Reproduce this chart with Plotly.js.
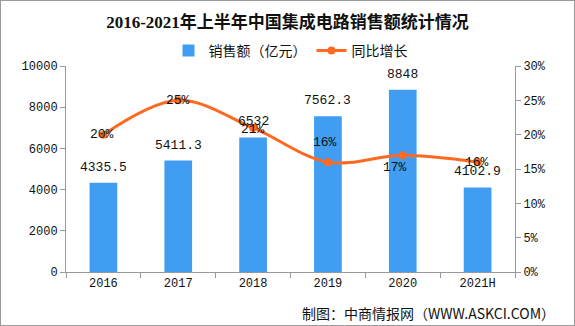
<!DOCTYPE html>
<html>
<head>
<meta charset="utf-8">
<script src="https://cdn.plot.ly/plotly-3.0.1.min.js"></script>
<style>
html,body{margin:0;padding:0;background:#fff;}
#wrap{position:relative;width:575px;height:326px;}
#frame{position:absolute;left:0;top:0;width:575px;height:326px;box-sizing:border-box;border:1px solid #9a9a9a;pointer-events:none;}
</style>
</head>
<body>
<div id="wrap"><div id="chart" style="width:575px;height:326px;"></div><div id="frame"></div></div>
<script>
const categories = ['2016', '2017', '2018', '2019', '2020', '2021H'];
const sales = [4335.5, 5411.3, 6532, 7562.3, 8848, 4102.9];
const salesLabels = ['4335.5', '5411.3', '6532', '7562.3', '8848', '4102.9'];
const growth = [0.20, 0.25, 0.21, 0.16, 0.17, 0.16];
const growthLabels = ['20%', '25%', '21%', '16%', '17%', '16%'];
// label offsets in pixels (style, not data)
const growthLabelDx = [-1, 0, 0, -3, -8, -1];
const growthLabelDy = [0, 0, -2, 20, -12, 0];

const mono = 'Liberation Mono, DejaVu Sans Mono, monospace';
const cjk = 'Noto Sans CJK SC, Noto Sans, sans-serif';

const traces = [
  {
    type: 'bar', name: '销售额（亿元）', x: categories, y: sales,
    marker: {color: '#409DF2'},
    hoverinfo: 'none'
  },
  {
    type: 'scatter', mode: 'lines+markers', name: '同比增长', x: categories, y: growth,
    yaxis: 'y2',
    line: {color: '#FF6A22', width: 3, shape: 'spline', smoothing: 1},
    marker: {color: '#FF6A22', size: 8},
    cliponaxis: false,
    hoverinfo: 'none'
  }
];

const annotations = [];
categories.forEach((c, i) => {
  annotations.push({
    x: i, y: sales[i], xref: 'x', yref: 'y', text: salesLabels[i],
    showarrow: false, xanchor: 'center', yanchor: 'bottom', yshift: 6,
    font: {family: mono, size: 13, color: '#111'}
  });
});
categories.forEach((c, i) => {
  annotations.push({
    x: i, y: growth[i], xref: 'x', yref: 'y2', text: growthLabels[i],
    showarrow: false, xanchor: 'center', yanchor: 'middle',
    xshift: growthLabelDx[i], yshift: growthLabelDy[i],
    font: {family: mono, size: 13, color: '#111'}
  });
});
annotations.push({
  text: '制图：中商情报网（WWW.ASKCI.COM）',
  xref: 'paper', yref: 'paper', x: 1.094, y: -0.199,
  xanchor: 'right', yanchor: 'middle', showarrow: false,
  font: {family: cjk, size: 14, color: '#111'}
});

const layout = {
  width: 575, height: 326,
  margin: {l: 66, r: 60, t: 66, b: 54},
  paper_bgcolor: '#fff', plot_bgcolor: '#fff',
  bargap: 0.63,
  showlegend: true,
  title: {
    text: '<b>2016-2021年上半年中国集成电路销售额统计情况</b>',
    font: {family: 'Liberation Serif, Noto Sans CJK SC, serif', size: 17, color: '#111'},
    x: 0.5, xanchor: 'center', y: 0.933, yref: 'container', yanchor: 'middle'
  },
  legend: {
    orientation: 'h', x: 0.5, xanchor: 'center', y: 1.073, yanchor: 'middle',
    font: {family: cjk, size: 14, color: '#111'},
    itemwidth: 30, traceorder: 'normal', bgcolor: 'rgba(0,0,0,0)'
  },
  xaxis: {
    type: 'category', range: [-0.5, categories.length - 0.5],
    showline: true, linecolor: '#999', linewidth: 1,
    ticks: 'outside', tickson: 'boundaries', ticklen: 5, tickcolor: '#999',
    showgrid: false, zeroline: false,
    tickfont: {family: mono, size: 12, color: '#111'}
  },
  yaxis: {
    range: [0, 10000], dtick: 2000, tickformat: 'd',
    showline: true, linecolor: '#999', linewidth: 1,
    ticks: 'outside', ticklen: 5, tickcolor: '#999',
    showgrid: false, zeroline: false,
    tickfont: {family: mono, size: 12, color: '#111'}
  },
  yaxis2: {
    overlaying: 'y', side: 'right',
    range: [0, 0.30], dtick: 0.05, tickformat: '.0%',
    showline: true, linecolor: '#999', linewidth: 1,
    ticks: 'outside', ticklen: 5, tickcolor: '#999',
    showgrid: false, zeroline: false,
    tickfont: {family: mono, size: 12, color: '#111'}
  },
  annotations: annotations
};

Plotly.newPlot('chart', traces, layout, {displayModeBar: false, staticPlot: true});
</script>
</body>
</html>
